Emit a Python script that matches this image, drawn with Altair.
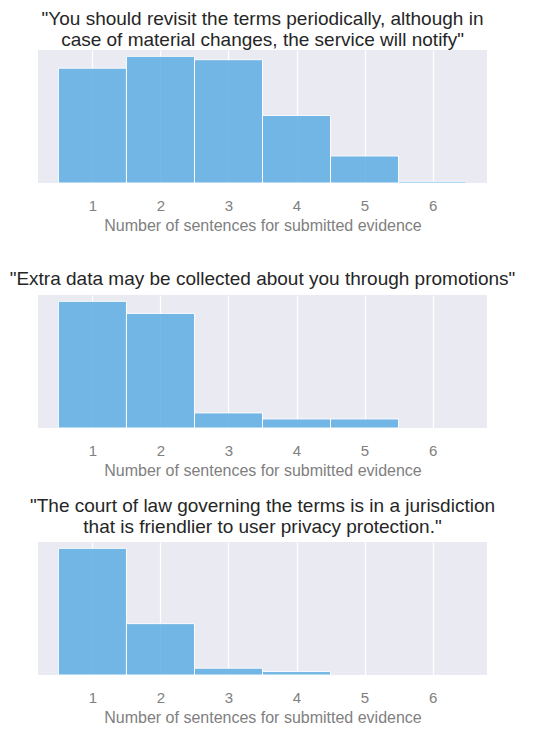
import altair as alt
import pandas as pd

# number of sentences (bin centres) and counts per bin for each statement
sentences = [1, 2, 3, 4, 5, 6]
titles = [
    ['"You should revisit the terms periodically, although in',
     'case of material changes, the service will notify"'],
    ['"Extra data may be collected about you through promotions"'],
    ['"The court of law governing the terms is in a jurisdiction',
     'that is friendlier to user privacy protection."'],
]
counts_revisit = [68, 75, 73, 40, 16, 1]
counts_promotions = [42, 38, 5, 3, 3, 0]
counts_jurisdiction = [37, 15, 2, 1, 0, 0]

FONT = "Liberation Sans"
BAR = "#5DADE2"


def hist_panel(title, counts, offset):
    df = pd.DataFrame({"sentences": sentences, "count": counts})
    top = max(counts) * 1.05
    return (
        alt.Chart(df, title=alt.TitleParams(title, frame="group", offset=offset))
        .transform_filter("datum.count > 0")
        .transform_calculate(lo="datum.sentences - 0.5", hi="datum.sentences + 0.5")
        .mark_bar(color=BAR, opacity=0.85, stroke="white", strokeWidth=1)
        .encode(
            x=alt.X(
                "lo:Q",
                scale=alt.Scale(domain=[0.2, 6.8], nice=False, zero=False),
                axis=alt.Axis(values=sentences, title="Number of sentences for submitted evidence"),
            ),
            x2="hi:Q",
            y=alt.Y("count:Q", scale=alt.Scale(domain=[0, top], nice=False), axis=None),
            y2=alt.datum(0),
        )
        .properties(width=449, height=133)
    )


top_pair = alt.vconcat(
    hist_panel(titles[0], counts_revisit, 0),
    hist_panel(titles[1], counts_promotions, 6),
    spacing=37,
)

chart = (
    alt.vconcat(top_pair, hist_panel(titles[2], counts_jurisdiction, 5), spacing=19)
    .properties(padding={"left": 1, "top": 2, "right": 5, "bottom": 5})
    .configure_view(fill="#EAEAF2", stroke=None)
    .configure_axis(
        grid=True,
        gridColor="white",
        gridWidth=1.2,
        domain=False,
        ticks=False,
        labelFont=FONT,
        labelFontSize=15,
        labelColor="#808080",
        labelPadding=15,
        titleFont=FONT,
        titleFontSize=16,
        titleFontWeight="normal",
        titleColor="#808080",
        titlePadding=4,
    )
    .configure_title(
        font=FONT,
        fontSize=19,
        fontWeight="normal",
        color="#262626",
        lineHeight=21,
    )
)

chart.save("out.html", embed_options={"renderer": "svg", "actions": False})
